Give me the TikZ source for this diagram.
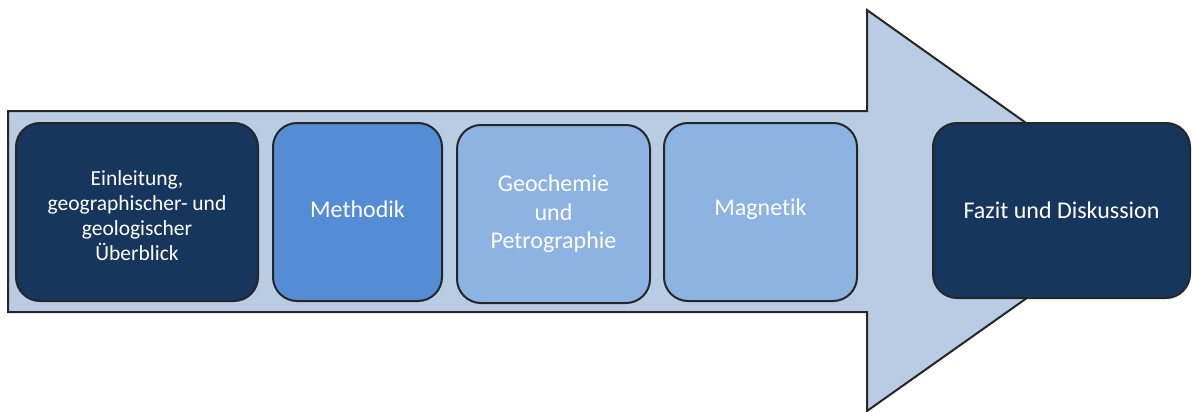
\documentclass[tikz,border=0pt]{standalone}
\usepackage{fontspec}
\setmainfont{Carlito}[Ligatures={NoCommon}]
\definecolor{arrowfill}{HTML}{B8CCE4}
\definecolor{navy}{HTML}{17365D}
\definecolor{midblue}{HTML}{548DD4}
\definecolor{lightblue}{HTML}{8DB3E2}
\definecolor{outline}{HTML}{262626}
\tikzset{
  bigarrow/.style={draw=outline, fill=arrowfill, line width=2pt, line join=miter},
  box/.style={draw=outline, line width=2pt, rounded corners=24pt, align=center,
    text=white, inner sep=0pt, outer sep=0pt,
    font=\fontsize{24}{28.5}\selectfont},
}
\begin{document}
\begin{tikzpicture}[x=1pt,y=-1pt]
\useasboundingbox (0,0) rectangle (1192,412);
\draw[bigarrow] (8,111) -- (867,111) -- (867,10) -- (1150,211) -- (867,411) -- (867,312) -- (8,312) -- cycle;
\node[box, fill=navy, minimum width=242pt, minimum height=178pt] (b1) at (137,212)
  {\raisebox{-6pt}[\height][\depth]{\fontsize{21.5}{25}\selectfont
   \begin{tabular}{@{}c@{}}Einleitung,\\geographischer- und\\geologischer\\Überblick\end{tabular}}};
\node[box, fill=midblue, minimum width=169pt, minimum height=178pt] (b2) at (357.5,212)
  {\raisebox{3pt}[\height][\depth]{Methodik}};
\node[box, fill=lightblue, minimum width=193pt, minimum height=178pt] (b3) at (553.5,214)
  {Geochemie\\und\\Petrographie};
\node[box, fill=lightblue, minimum width=193pt, minimum height=178pt] (b4) at (760.5,212)
  {\raisebox{3pt}[\height][\depth]{Magnetik}};
\node[box, fill=navy, minimum width=257pt, minimum height=175pt] (b5) at (1061.5,210.5)
  {Fazit und Diskussion};
\end{tikzpicture}
\end{document}
